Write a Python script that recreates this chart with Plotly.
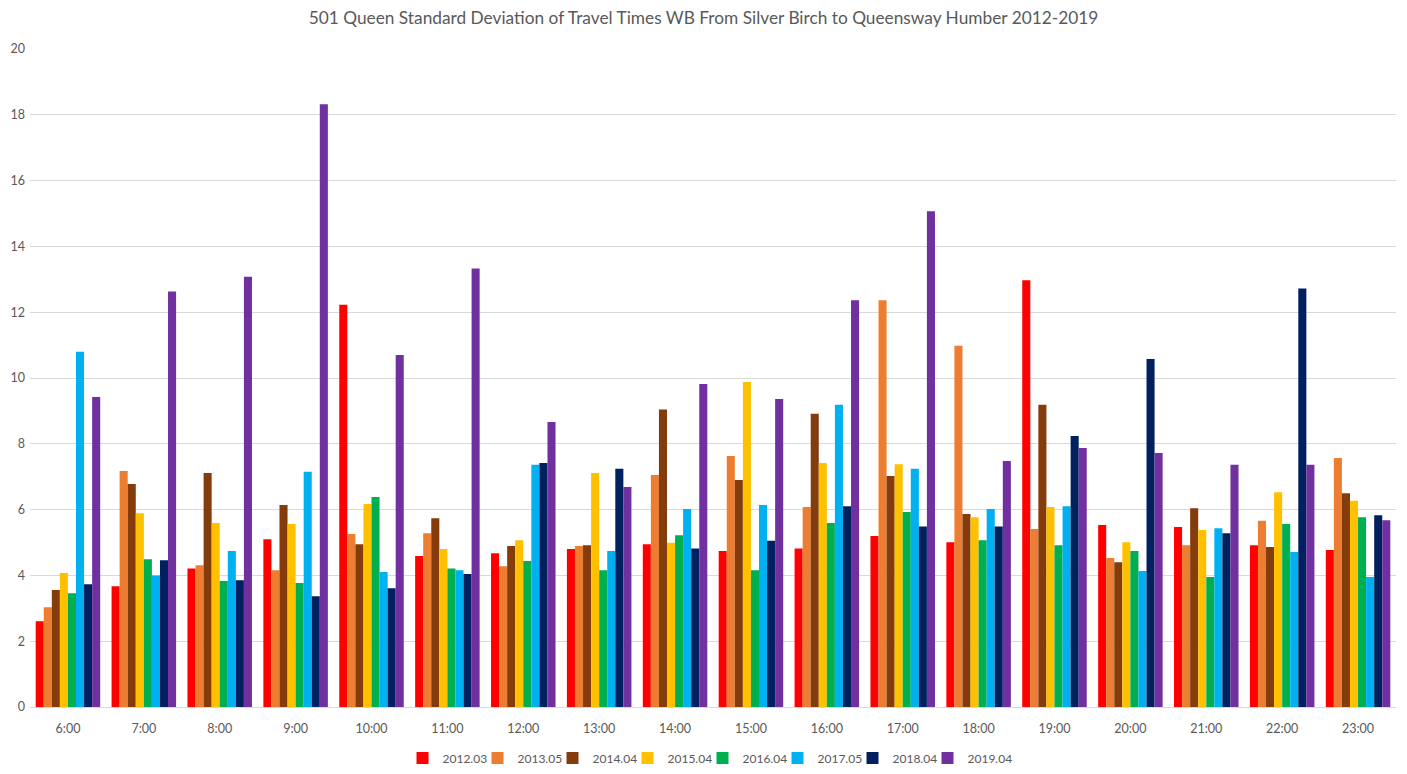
import plotly.graph_objects as go

categories = ["6:00", "7:00", "8:00", "9:00", "10:00", "11:00", "12:00", "13:00", "14:00",
              "15:00", "16:00", "17:00", "18:00", "19:00", "20:00", "21:00", "22:00", "23:00"]

s2012_03 = [2.61, 3.67, 4.21, 5.10, 12.23, 4.59, 4.67, 4.80, 4.95, 4.74, 4.82, 5.20, 5.01, 12.97, 5.53, 5.47, 4.92, 4.77]
s2013_05 = [3.03, 7.17, 4.31, 4.16, 5.26, 5.28, 4.28, 4.89, 7.05, 7.63, 6.08, 12.36, 10.98, 5.41, 4.53, 4.92, 5.66, 7.57]
s2014_04 = [3.56, 6.78, 7.11, 6.14, 4.95, 5.74, 4.89, 4.92, 9.04, 6.90, 8.91, 7.02, 5.87, 9.19, 4.40, 6.04, 4.86, 6.50]
s2015_04 = [4.07, 5.89, 5.59, 5.56, 6.17, 4.80, 5.07, 7.11, 4.99, 9.88, 7.42, 7.38, 5.77, 6.08, 5.01, 5.38, 6.53, 6.27]
s2016_04 = [3.46, 4.49, 3.83, 3.77, 6.38, 4.21, 4.44, 4.16, 5.22, 4.16, 5.59, 5.93, 5.07, 4.92, 4.74, 3.95, 5.56, 5.77]
s2017_05 = [10.80, 4.00, 4.74, 7.15, 4.10, 4.16, 7.36, 4.74, 6.02, 6.14, 9.19, 7.24, 6.02, 6.10, 4.13, 5.43, 4.71, 3.95]
s2018_04 = [3.73, 4.46, 3.85, 3.37, 3.61, 4.04, 7.42, 7.24, 4.82, 5.05, 6.10, 5.49, 5.49, 8.24, 10.58, 5.28, 12.72, 5.83]
s2019_04 = [9.42, 12.63, 13.08, 18.32, 10.70, 13.33, 8.66, 6.69, 9.82, 9.36, 12.36, 15.07, 7.48, 7.87, 7.72, 7.36, 7.36, 5.68]

series_names = ["2012.03", "2013.05", "2014.04", "2015.04", "2016.04", "2017.05", "2018.04", "2019.04"]
series_values = [s2012_03, s2013_05, s2014_04, s2015_04, s2016_04, s2017_05, s2018_04, s2019_04]
colors = ["#FF0000", "#ED7D31", "#843C0C", "#FFC000", "#00B050", "#00B0F0", "#002060", "#7030A0"]

y_ticks = [0, 2, 4, 6, 8, 10, 12, 14, 16, 18, 20]

font_family = "Lato, 'Open Sans', Arial, sans-serif"
grey = "#595959"

W, H = 1391, 758

fig = go.Figure()
for name, vals, col in zip(series_names, series_values, colors):
    fig.add_trace(go.Bar(x=categories, y=vals, name=name, marker=dict(color=col, line=dict(width=0))))

# empty spacer entry so the last legend label is not clipped
fig.add_trace(go.Scatter(x=[None], y=[None], mode="markers", name="", hoverinfo="skip",
                         marker=dict(color="rgba(0,0,0,0)")))

fig.update_layout(
    width=W, height=H,
    barmode="group", bargap=0.15, bargroupgap=0,
    paper_bgcolor="white", plot_bgcolor="white",
    margin=dict(l=22, r=3, t=41, b=59, autoexpand=False),
    title=dict(text="501 Queen Standard Deviation of Travel Times WB From Silver Birch to Queensway Humber 2012-2019",
               x=0.5, xanchor="center", y=1 - 10 / H, yanchor="middle",
               font=dict(family=font_family, size=17.3, color=grey)),
    font=dict(family=font_family, size=12, color=grey),
    legend=dict(orientation="h", x=0.2727, xanchor="left", y=-0.0775, yanchor="middle",
                font=dict(family=font_family, size=12, color=grey),
                entrywidth=30, entrywidthmode="pixels", itemwidth=30, traceorder="normal"),
    showlegend=True,
)
fig.update_yaxes(range=[0, 20], tickvals=y_ticks, showgrid=True, gridcolor="#D9D9D9", gridwidth=1,
                 zeroline=False, showline=False, ticks="", automargin=False, ticklabelstandoff=4,
                 tickfont=dict(size=12.5, color=grey))
fig.update_xaxes(showline=True, linecolor="#D9D9D9", linewidth=1, ticks="", showgrid=False,
                 automargin=False, ticklabelstandoff=10,
                 tickfont=dict(size=12.5, color=grey))

fig.write_html("out.html")
